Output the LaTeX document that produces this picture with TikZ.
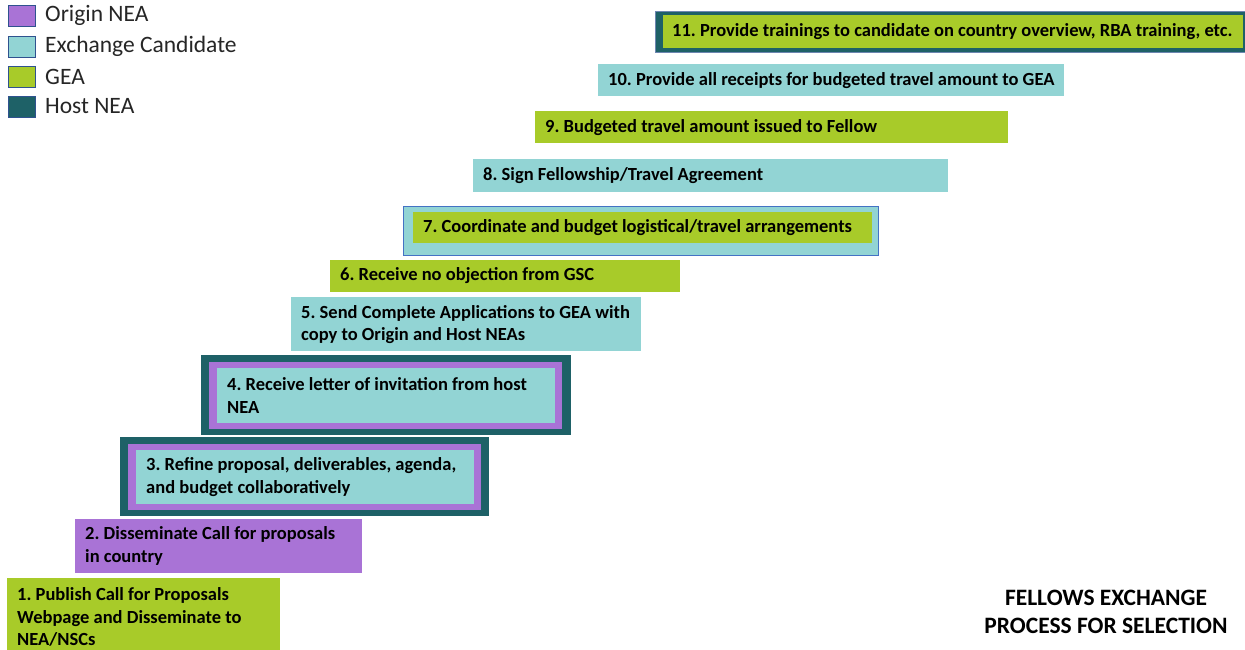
\documentclass[tikz,border=0pt]{standalone}
\usepackage{fontspec}
\setmainfont{Carlito}
\frenchspacing
\definecolor{cPurple}{RGB}{169,115,214}
\definecolor{cCyan}{RGB}{146,212,212}
\definecolor{cGreen}{RGB}{168,203,41}
\definecolor{cTeal}{RGB}{30,97,103}
\definecolor{cLegBorder}{RGB}{47,82,143}
\definecolor{cBlue}{RGB}{68,114,196}
\begin{document}
\begin{tikzpicture}[x=1pt,y=-1pt,
  plate/.style={anchor=north west, inner sep=0pt, draw=none},
  steptext/.style={anchor=west, inner sep=0pt, align=left,
    font=\bfseries\fontsize{18.5}{22.5}\selectfont\frenchspacing},
  legsq/.style={anchor=north west, inner sep=0pt, draw=cLegBorder, line width=1pt,
    minimum width=27pt, minimum height=21pt},
  legtxt/.style={anchor=west, inner sep=0pt, font=\fontsize{23.5}{28}\selectfont, text=black!85}
]
\clip (0,0) rectangle (1245,650);
\useasboundingbox (0,0) rectangle (1245,650);
\fill[white] (0,0) rectangle (1245,650);

% legend
\node[legsq, fill=cPurple] (lg1) at (8,5) {};
\node[legsq, fill=cCyan] (lg2) at (8,36) {};
\node[legsq, fill=cGreen] (lg3) at (8,66) {};
\node[legsq, fill=cTeal] (lg4) at (8,96) {};
\node[legtxt] (lt1) at (45,15.5) {Origin NEA};
\node[legtxt] (lt2) at (45,46.5) {Exchange Candidate};
\node[legtxt] (lt3) at (45,76.5) {GEA};
\node[legtxt] (lt4) at (45,106.5) {Host NEA};

% step 1
\node[plate, fill=cGreen, minimum width=273pt, minimum height=78pt] (s1) at (7,578) {};
\node[steptext] (t1) at (17,617) {1. Publish Call for Proposals\\Webpage and Disseminate to\\NEA/NSCs};
% step 2
\node[plate, fill=cPurple, minimum width=287pt, minimum height=54pt] (s2) at (75,519) {};
\node[steptext] (t2) at (85,546) {2. Disseminate Call for proposals\\in country};
% step 3
\node[plate, fill=cTeal, minimum width=369pt, minimum height=79pt] (s3o) at (120,437) {};
\node[plate, fill=cPurple, minimum width=353pt, minimum height=66pt] (s3m) at (128,444) {};
\node[plate, fill=cCyan, minimum width=338pt, minimum height=54pt] (s3) at (136,450) {};
\node[steptext] (t3) at (146,477) {3. Refine proposal, deliverables, agenda,\\and budget collaboratively};
% step 4
\node[plate, fill=cTeal, minimum width=370pt, minimum height=80pt] (s4o) at (201,355) {};
\node[plate, fill=cPurple, minimum width=353pt, minimum height=67pt] (s4m) at (209,362) {};
\node[plate, fill=cCyan, minimum width=338pt, minimum height=55pt] (s4) at (217,368) {};
\node[steptext] (t4) at (227,395.5) {4. Receive letter of invitation from host\\NEA};
% step 5
\node[plate, fill=cCyan, minimum width=350pt, minimum height=54pt] (s5) at (291,297) {};
\node[steptext] (t5) at (301,324.5) {5. Send Complete Applications to GEA with\\copy to Origin and Host NEAs};
% step 6
\node[plate, fill=cGreen, minimum width=350pt, minimum height=32pt] (s6) at (330,260) {};
\node[steptext] (t6) at (340,276) {6. Receive no objection from GSC};
% step 7
\node[plate, fill=cCyan, draw=cBlue, line width=1pt, minimum width=475pt, minimum height=49pt] (s7o) at (403,205.5) {};
\node[plate, fill=cGreen, minimum width=459pt, minimum height=31pt] (s7) at (413,212) {};
\node[steptext] (t7) at (423,227.5) {7. Coordinate and budget logistical/travel arrangements};
% step 8
\node[plate, fill=cCyan, minimum width=475pt, minimum height=33pt] (s8) at (473,159) {};
\node[steptext] (t8) at (483,176) {8. Sign Fellowship/Travel Agreement};
% step 9
\node[plate, fill=cGreen, minimum width=473pt, minimum height=32pt] (s9) at (535,111) {};
\node[steptext] (t9) at (545,127.5) {9. Budgeted travel amount issued to Fellow};
% step 10
\node[plate, fill=cCyan, minimum width=466pt, minimum height=32pt] (s10) at (598,64) {};
\node[steptext] (t10) at (608,80.5) {10. Provide all receipts for budgeted travel amount to GEA};
% step 11
\node[plate, fill=cTeal, draw=cLegBorder!70, line width=1pt, minimum width=592pt, minimum height=41pt] (s11o) at (655,11) {};
\node[plate, fill=cGreen, minimum width=580pt, minimum height=33pt] (s11) at (663,15) {};
\node[steptext] (t11) at (672,31.5) {11. Provide trainings to candidate on country overview, RBA training, etc.};

% title
\node[inner sep=0pt, align=center, font=\bfseries\fontsize{23.5}{28}\selectfont] (title) at (1106,612)
  {FELLOWS EXCHANGE\\PROCESS FOR SELECTION};
\end{tikzpicture}
\end{document}
